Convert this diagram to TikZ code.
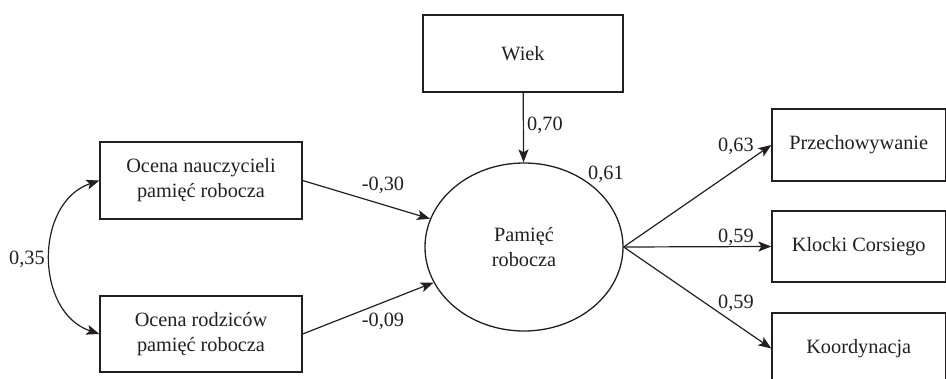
\documentclass[tikz,border=0pt]{standalone}
\usepackage{fontspec}
\setmainfont{Liberation Serif}
\newfontfamily\tnrfont{Liberation Serif}
\usetikzlibrary{arrows.meta,shapes.geometric,calc}
\definecolor{ink}{RGB}{35,31,32}
\begin{document}
\begin{tikzpicture}[x=1pt,y=-1pt,
  every node/.style={font=\tnrfont\fontsize{20.3}{25}\selectfont, text=ink},
  box/.style={draw=ink, line width=1.3pt, rectangle, inner sep=0pt, align=center},
  lat/.style={draw=ink, line width=1.3pt, ellipse, inner sep=0pt, align=center, minimum width=198pt, minimum height=168pt},
  arr/.style={draw=ink, line width=1.2pt, -{Stealth[length=13pt,width=10pt,inset=3pt]}},
  darr/.style={draw=ink, line width=1.2pt, {Stealth[length=13pt,width=10pt,inset=3pt]}-{Stealth[length=13pt,width=10pt,inset=3pt]}},
  coef/.style={inner sep=0pt}]
\path[use as bounding box] (0,0) rectangle (946,378);
\clip (0,0) rectangle (946,378);
\node[box, minimum width=200pt, minimum height=77pt] (wiek) at (523,53.5) {Wiek};
\node[box, minimum width=202pt, minimum height=77pt] (b1) at (201,180.5) {Ocena nauczycieli\\pamięć robocza};
\node[box, minimum width=202pt, minimum height=76pt] (b2) at (201,334) {Ocena rodziców\\pamięć robocza};
\node[lat] (pr) at (524,247) {Pamięć\\robocza};
\node[box, minimum width=173.5pt, minimum height=72pt] (r1) at (858.75,145) {Przechowywanie};
\node[box, minimum width=173.5pt, minimum height=71pt] (r2) at (858.75,246.5) {Klocki Corsiego};
\node[box, minimum width=173.5pt, minimum height=71pt] (r3) at (858.75,348.5) {Koordynacja};
\draw[arr] (wiek) -- (pr);
\draw[arr] (b1.east) -- (pr);
\draw[arr] (b2.east) -- (pr);
\draw[arr] (pr.east) -- (r1.west);
\draw[arr] (pr.east) -- (r2.west);
\draw[arr] (pr.east) -- (r3.west);
\draw[darr] (b1.west) .. controls ($(b1.west)+(-65,22)$) and ($(b2.west)+(-65,-22)$) .. (b2.west);
\node[coef] (c70) at (545,125) {0,70};
\node[coef] (c61) at (606,174) {0,61};
\node[coef] (c30) at (383,185) {-0,30};
\node[coef] (c09) at (383,321) {-0,09};
\node[coef] (c35) at (27,259) {0,35};
\node[coef] (c63) at (736,146) {0,63};
\node[coef] (c59a) at (736,237) {0,59};
\node[coef] (c59b) at (736,303) {0,59};
\end{tikzpicture}
\end{document}
